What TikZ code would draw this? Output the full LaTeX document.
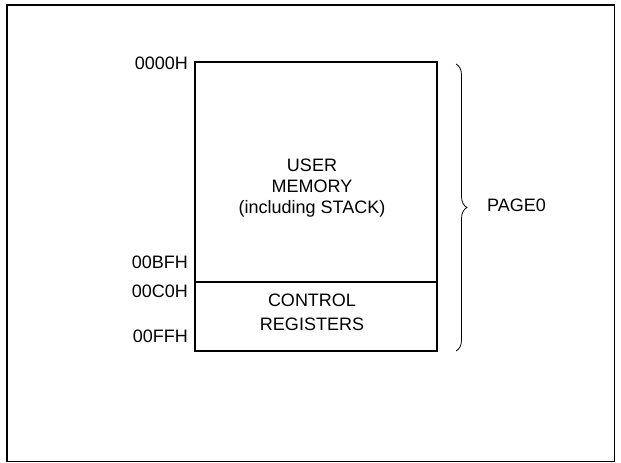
\documentclass[tikz,border=0pt]{standalone}
\usepackage{fontspec}
\setmainfont{Liberation Sans}
\usetikzlibrary{decorations.pathreplacing}

\begin{document}
\begin{tikzpicture}[x=1pt, y=-1pt,
    frame/.style={draw, line width=1.6pt},
    mem/.style={draw, line width=2.4pt, minimum width=242pt, inner sep=0pt},
    txt/.style={font=\fontsize{18}{21}\selectfont, inner sep=0pt, anchor=base},
    addr/.style={font=\fontsize{18}{21}\selectfont, inner sep=0pt, anchor=base east},
    brc/.style={decorate, decoration={brace, amplitude=11pt}, line width=0.8pt}
]
\useasboundingbox (0,0) rectangle (621,463);
\draw[frame] (6.8,4.8) rectangle (614.5,461.5);

% memory map
\node[mem, minimum height=220pt] (user) at (316,172) {};
\node[mem, minimum height=69pt] (ctrl) at (316,316.5) {};

\node[txt] (user1) at (312,171) {USER};
\node[txt] (user2) at (312,192.3) {MEMORY};
\node[txt] (user3) at (312,213.6) {(including STACK)};
\node[txt] (ctrl1) at (312,306.7) {CONTROL};
\node[txt] (ctrl2) at (312,330) {REGISTERS};

% addresses
\node[addr] (a0) at (188,69) {0000H};
\node[addr] (a1) at (188,268) {00BFH};
\node[addr] (a2) at (188,297) {00C0H};
\node[addr] (a3) at (188,342) {00FFH};

% page brace
\coordinate (btop) at (456,64);
\coordinate (bbot) at (456,351);
\draw[brc] (btop) -- (bbot);
\node[txt, anchor=base west] (page) at (487,211) {PAGE0};
\end{tikzpicture}
\end{document}
